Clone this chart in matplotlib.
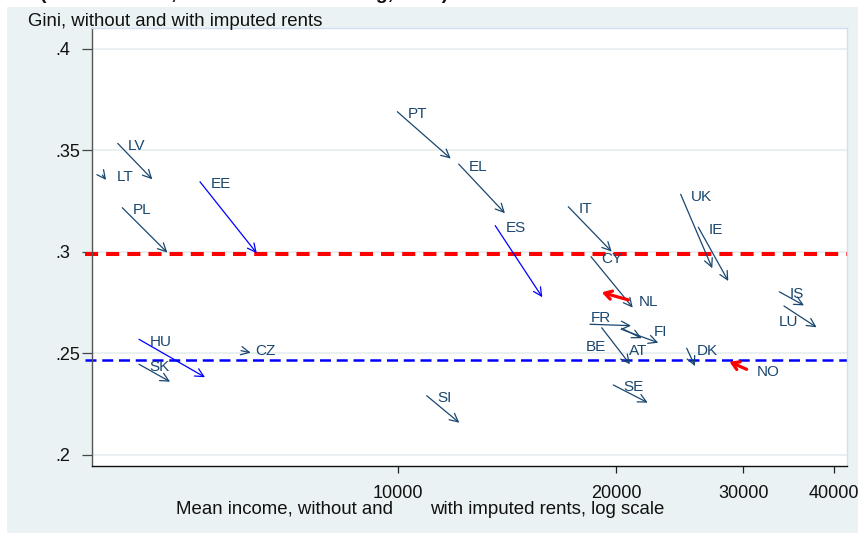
import matplotlib
matplotlib.use("Agg")
import matplotlib.pyplot as plt
from matplotlib.patches import Rectangle
from matplotlib.ticker import FixedLocator, NullLocator, FixedFormatter

plt.rcParams['font.family'] = ['Liberation Sans', 'DejaVu Sans']

# ---------------- data ----------------
countries = ["LV", "LT", "PL", "EE", "HU", "SK", "CZ", "PT", "EL", "ES", "IT", "CY", "NL",
             "UK", "IE", "IS", "LU", "FR", "AT", "FI", "BE", "DK", "NO", "SE", "SI"]
income_start = [4100, 3905, 4160, 5326, 4387, 4387, 6069, 9978, 12130, 13623, 17187, 18474, 20805,
                24575, 25990, 33628, 34132, 18414, 20367, 20457, 19114, 25049, 30311, 19831, 10956]
income_end = [4577, 3951, 4801, 6381, 5412, 4843, 6259, 11826, 14050, 15825, 19730, 21099, 19114,
              27170, 28590, 36374, 37867, 20984, 21706, 22883, 20910, 25719, 28686, 22127, 12152]
gini_start = [0.3535, 0.3379, 0.3218, 0.3346, 0.2570, 0.2447, 0.2514, 0.3691, 0.3433, 0.3130, 0.3223,
              0.2977, 0.2764, 0.3284, 0.3122, 0.2804, 0.2734, 0.2644, 0.2624, 0.2616, 0.2627, 0.2526,
              0.2422, 0.2345, 0.2292]
gini_end = [0.3358, 0.3355, 0.2997, 0.2994, 0.2383, 0.2361, 0.2504, 0.3460, 0.3191, 0.2777, 0.3002,
            0.2726, 0.2801, 0.2920, 0.2857, 0.2737, 0.2629, 0.2637, 0.2575, 0.2553, 0.2447, 0.2438,
            0.2460, 0.2258, 0.2159]
blue_group = ["EE", "HU", "ES"]
red_group = ["NL", "NO"]
ref_red = 0.299
ref_blue = 0.247

x_ticks = [10000, 20000, 30000, 40000]
x_tick_labels = ["10000", "20000", "30000", "40000"]
y_ticks = [0.2, 0.25, 0.3, 0.35, 0.4]
y_tick_labels = [".2", ".25", ".3", ".35", ".4"]

# label placement (pixels, relative to start point): dx, dy(down), ha
default_lab = (10.5, 2.5, 'left')
label_place = {
    "LT": (14.4, 2.0, 'left'),
    "CZ": (14.7, 0.3, 'left'),
    "LU": (5.0, 16.3, 'center'),
    "FR": (11.0, -6.6, 'center'),
    "BE": (-5.7, 19.0, 'center'),
    "AT": (16.3, 22.4, 'center'),
    "FI": (37.5, 1.7, 'center'),
}

# ---------------- figure ----------------
W, H = 858, 533
fig = plt.figure(figsize=(W / 100, H / 100), dpi=100, facecolor='white')
bg = Rectangle((7 / W, 0), 1, (H - 7) / H, transform=fig.transFigure,
               facecolor='#eaf2f3', edgecolor='none', zorder=-10)
fig.patches.append(bg)

ax = fig.add_axes([92 / W, 1 - 466 / H, (847 - 92) / W, (466 - 28) / H])
ax.set_zorder(1)
ax.set_facecolor('white')
ax.set_xscale('log')
ax.set_xlim(3778, 41710)
ax.set_ylim(0.19458, 0.41034)

navy = '#1a476f'

# grid
for yv in y_ticks:
    ax.axhline(yv, color='#e6eef0', lw=1.2, zorder=1)

# reference lines
ax.axhline(ref_red, xmin=-0.0093, xmax=1, color='#ff0000', lw=2.9, dashes=(3.25, 2.0),
           clip_on=False, zorder=2)
ax.axhline(ref_blue, xmin=-0.0093, xmax=1, color='#0000ff', lw=1.8, dashes=(4.4, 2.3),
           clip_on=False, zorder=2)

pt = 72 / 100.0
for c, x0, x1, y0, y1 in zip(countries, income_start, income_end, gini_start, gini_end):
    if c in red_group:
        col, lw, style = '#ff0000', 2.3, '->,head_length=0.5,head_width=0.3'
    elif c in blue_group:
        col, lw, style = '#0000ff', 0.9, '->,head_length=0.6,head_width=0.3'
    else:
        col, lw, style = navy, 0.9, '->,head_length=0.6,head_width=0.3'
    ax.annotate('', xy=(x1, y1), xytext=(x0, y0),
                arrowprops=dict(arrowstyle=style, color=col, lw=lw,
                                shrinkA=0, shrinkB=0), zorder=3)
    dx, dy, ha = label_place.get(c, default_lab)
    ax.annotate(c, xy=(x0, y0), xytext=(dx * pt, -dy * pt), textcoords='offset points',
                ha=ha, va='center', fontsize=11, color=navy, zorder=4)

# axes styling
ax.xaxis.set_major_locator(FixedLocator(x_ticks))
ax.xaxis.set_major_formatter(FixedFormatter(x_tick_labels))
ax.xaxis.set_minor_locator(NullLocator())
ax.yaxis.set_major_locator(FixedLocator(y_ticks))
ax.yaxis.set_major_formatter(FixedFormatter(y_tick_labels))
ax.yaxis.set_minor_locator(NullLocator())
ax.tick_params(axis='x', direction='out', length=5, width=0.9, color='#222222',
               labelsize=13, pad=8.5, labelcolor='#111111')
ax.tick_params(axis='y', direction='out', length=7, width=0.9, color='#444444',
               labelsize=13, pad=19.6, labelcolor='#111111')
for lbl in ax.get_yticklabels():
    lbl.set_horizontalalignment('left')

ax.spines['left'].set_color('#555555')
ax.spines['left'].set_linewidth(1.0)
ax.spines['bottom'].set_color('#111111')
ax.spines['bottom'].set_linewidth(1.0)
ax.spines['top'].set_color('#d4def2')
ax.spines['right'].set_color('#d4def2')
ax.spines['top'].set_linewidth(1.0)
ax.spines['right'].set_linewidth(1.0)

# titles
fig.text(28 / W, 1 - 26 / H, "Gini, without and with imputed rents", ha='left', va='baseline',
         fontsize=13.4, color='#111111')
fig.text(176.5 / W, 1 - 514 / H, "Mean income, without and", ha='left', va='baseline',
         fontsize=13.4, color='#111111')
fig.text(430 / W, 1 - 514 / H, "with imputed rents, log scale", ha='left', va='baseline',
         fontsize=13.4, color='#111111')
# cut-off title at the very top
fig.text(40 / W, 1 + 1.0 / H, "(Source: Frick, Grabka and Smeeding, 2010)",
         ha='left', va='baseline', fontsize=14, fontweight='bold', color='#111111')

fig.savefig('out.png', dpi=100, facecolor='white')
